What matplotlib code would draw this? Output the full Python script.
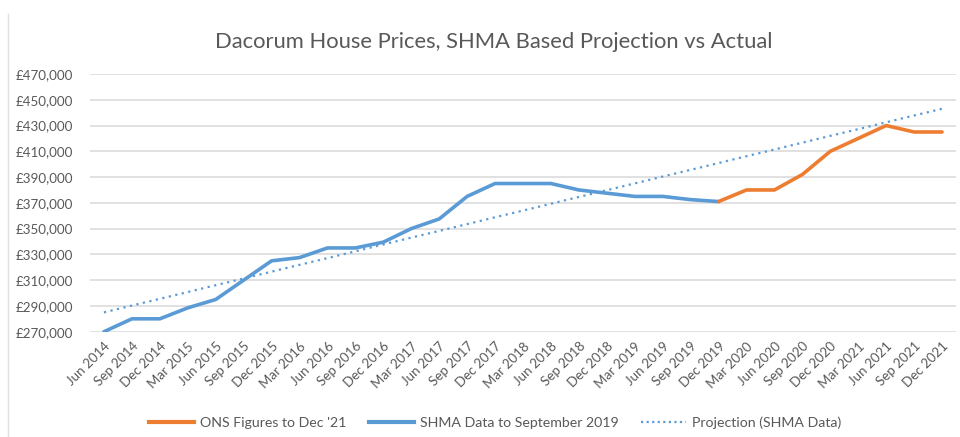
"""Dacorum house prices: SHMA projection vs actual."""

import matplotlib
matplotlib.use("Agg")
import matplotlib.pyplot as plt
from matplotlib.lines import Line2D
from matplotlib.ticker import FuncFormatter

plt.rcParams['font.family'] = ['Lato', 'DejaVu Sans']

# Quarterly categories
quarters = [
    "Jun 2014", "Sep 2014", "Dec 2014", "Mar 2015", "Jun 2015", "Sep 2015",
    "Dec 2015", "Mar 2016", "Jun 2016", "Sep 2016", "Dec 2016", "Mar 2017",
    "Jun 2017", "Sep 2017", "Dec 2017", "Mar 2018", "Jun 2018", "Sep 2018",
    "Dec 2018", "Mar 2019", "Jun 2019", "Sep 2019", "Dec 2019", "Mar 2020",
    "Jun 2020", "Sep 2020", "Dec 2020", "Mar 2021", "Jun 2021", "Sep 2021",
    "Dec 2021",
]

# SHMA data, Jun 2014 .. Dec 2019
shma = [270000, 280000, 280000, 288500, 295000, 310000, 325000, 327500,
        335000, 335000, 339500, 350000, 357500, 375000, 385000, 385000,
        385000, 380000, 377500, 375000, 375000, 372500, 371000]

# ONS figures, Dec 2019 .. Dec 2021
ons = [371000, 380000, 380000, 392000, 410000, 420000, 430000, 425000, 425000]

# Projection (SHMA data), read per quarter
projection = [285000, 290300, 295500, 300800, 306100, 311300, 316600, 321900,
              327100, 332400, 337700, 343000, 348200, 353500, 358800, 364000,
              369300, 374600, 379800, 385100, 390400, 395600, 400900, 406200,
              411400, 416700, 422000, 427200, 432500, 437800, 443000]

y_ticks = list(range(270000, 470001, 20000))

BLUE = "#5B9BD5"
ORANGE = "#ED7D31"
TEXT = "#595959"
GRID = "#D9D9D9"

fig = plt.figure(figsize=(9.6, 4.37), dpi=100)
ax = fig.add_axes([90 / 960, 1 - 331.7 / 437, 866 / 960, (331.7 - 74) / 437])

x_all = list(range(len(quarters)))
ons_start = len(shma) - 1
ax.plot(x_all, projection, color=BLUE, lw=1.6, linestyle=(0, (1, 2)), zorder=2)
ax.plot(x_all[:len(shma)], shma, color=BLUE, lw=2.6, solid_capstyle='round',
        solid_joinstyle='round', zorder=3)
ax.plot(x_all[ons_start:ons_start + len(ons)], ons, color=ORANGE, lw=2.6,
        solid_capstyle='round', solid_joinstyle='round', zorder=3)

ax.set_xlim(-0.5, len(quarters) - 0.5)
ax.set_ylim(y_ticks[0], y_ticks[-1])
ax.set_yticks(y_ticks)
ax.yaxis.set_major_formatter(FuncFormatter(lambda v, p: f"£{v:,.0f}"))
ax.set_xticks(x_all)
ax.set_xticklabels(quarters, rotation=45, ha='right', rotation_mode='anchor')
ax.tick_params(axis='both', length=0, colors=TEXT, labelsize=9.6)
ax.tick_params(axis='x', pad=6)
ax.tick_params(axis='y', pad=12)
ax.grid(axis='y', color=GRID, lw=1.1)
ax.set_axisbelow(True)
for s in ax.spines.values():
    s.set_visible(False)

fig.text(494 / 960, 1 - 42 / 437,
         "Dacorum House Prices, SHMA Based Projection vs Actual",
         ha='center', va='center', fontsize=15.8, color=TEXT)

handles = [
    Line2D([], [], color=ORANGE, lw=3),
    Line2D([], [], color=BLUE, lw=3),
    Line2D([], [], color=BLUE, lw=1.6, linestyle=(0, (1, 1.5))),
]
labels = ["ONS Figures to Dec '21", "SHMA Data to September 2019",
          "Projection (SHMA Data)"]
fig.legend(handles, labels, loc='center', bbox_to_anchor=(495 / 960, 1 - 423 / 437),
           ncol=3, frameon=False, fontsize=10.2, labelcolor=TEXT,
           handlelength=3.2, columnspacing=1.6, handletextpad=0.4)

fig.add_artist(Line2D([7.5 / 960, 7.5 / 960], [0, 1 - 14 / 437],
                      color="#E0E0E0", lw=1))

fig.savefig("out.png", dpi=100)
